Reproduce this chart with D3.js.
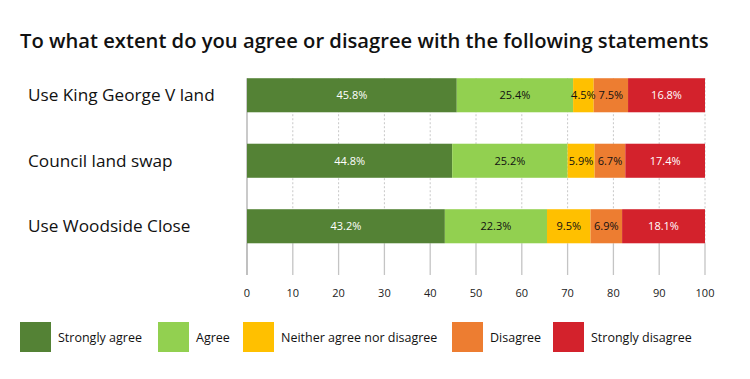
<!DOCTYPE html>
<html><head><meta charset="utf-8">
<script src="https://cdn.jsdelivr.net/npm/d3@7"></script>
<style>body{margin:0;background:#fff}svg{display:block}text{font-family:"Open Sans","Noto Sans",sans-serif}</style>
</head><body><svg id="c" width="750" height="379"></svg>
<script>
const title = "To what extent do you agree or disagree with the following statements";
const categories = ["Use King George V land", "Council land swap", "Use Woodside Close"];
const seriesNames = ["Strongly agree", "Agree", "Neither agree nor disagree", "Disagree", "Strongly disagree"];
const stronglyAgree = [45.8, 44.8, 43.2];
const agree = [25.4, 25.2, 22.3];
const neither = [4.5, 5.9, 9.5];
const disagree = [7.5, 6.7, 6.9];
const stronglyDisagree = [16.8, 17.4, 18.1];
const xTicks = [0, 10, 20, 30, 40, 50, 60, 70, 80, 90, 100];
const colors = ["#548235", "#92d050", "#ffc000", "#ed7d31", "#d3222c"];
const labelColors = ["#fff", "#111", "#111", "#111", "#fff"];

const svg = d3.select("#c");
const x = d3.scaleLinear().domain([0, 100]).range([247, 705]);
const y = d3.scaleBand().domain(categories).range([62.5, 259]).paddingInner(0.48).paddingOuter(0.24);

const rows = categories.map((c, i) => ({cat: c, values: [stronglyAgree[i], agree[i], neither[i], disagree[i], stronglyDisagree[i]]}));

svg.append("text").attr("x", 20).attr("y", 48).attr("font-size", 20.2).attr("font-weight", 600)
  .attr("fill", "#111").text(title);

// gridlines
const gridTop = y(categories[0]);
const lastBottom = y(categories[2]) + y.bandwidth();
const axisBottom = 275;
const g = svg.append("g");
g.selectAll("line.grid").data(xTicks.slice(1)).join("line")
  .attr("x1", d => x(d)).attr("x2", d => x(d))
  .attr("y1", gridTop).attr("y2", lastBottom)
  .attr("stroke", "#c8c8c8").attr("stroke-width", 1).attr("stroke-dasharray", "2,2");
g.selectAll("line.tick").data(xTicks).join("line")
  .attr("x1", d => x(d)).attr("x2", d => x(d))
  .attr("y1", lastBottom).attr("y2", axisBottom)
  .attr("stroke", "#c4c4c4").attr("stroke-width", 1.3);
g.append("line").attr("x1", x(0)).attr("x2", x(0)).attr("y1", gridTop).attr("y2", axisBottom)
  .attr("stroke", "#b8b8b8").attr("stroke-width", 1.5);

// bars
rows.forEach(r => {
  let cum = 0;
  const segs = r.values.map((v, k) => { const s = {k, v, x0: cum, x1: cum + v}; cum += v; return s; });
  const gr = svg.append("g");
  gr.selectAll("rect").data(segs).join("rect")
    .attr("x", d => x(d.x0)).attr("width", d => x(d.x1) - x(d.x0))
    .attr("y", y(r.cat)).attr("height", y.bandwidth())
    .attr("fill", d => colors[d.k]);
  gr.selectAll("text").data(segs).join("text")
    .attr("x", d => (x(d.x0) + x(d.x1)) / 2).attr("y", y(r.cat) + y.bandwidth() / 2 + 4)
    .attr("text-anchor", "middle").attr("font-size", 11).attr("fill", d => labelColors[d.k])
    .text(d => d.v.toFixed(1) + "%");
  svg.append("text").attr("x", 28).attr("y", y(r.cat) + y.bandwidth() / 2 + 6)
    .attr("font-size", 17.2).attr("fill", "#111").text(r.cat);
});

// x tick labels
svg.append("g").selectAll("text").data(xTicks).join("text")
  .attr("x", d => x(d)).attr("y", 297).attr("text-anchor", "middle")
  .attr("font-size", 11).attr("fill", "#222").text(d => d);

// legend
const legendX = [20, 158, 243, 452, 553];
const lg = svg.append("g");
seriesNames.forEach((n, i) => {
  lg.append("rect").attr("x", legendX[i]).attr("y", 322).attr("width", 31).attr("height", 30).attr("fill", colors[i]);
  lg.append("text").attr("x", legendX[i] + 38).attr("y", 342).attr("font-size", 12.5).attr("fill", "#111").text(n);
});
</script></body></html>
